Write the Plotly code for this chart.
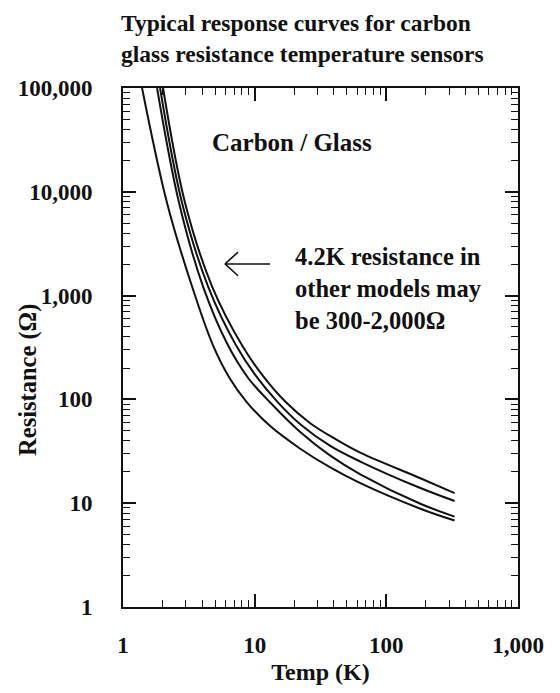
import plotly.graph_objects as go

# Temperature (K) and resistance (ohm), four sensors
temp_a = [1.395, 2.16, 3.347, 4.836, 6.512, 8.77, 13.12, 22.18, 37.51, 63.43, 181.4, 330]
res_a = [100000, 7800, 1222, 330, 157.4, 93.3, 55.3, 33.5, 22.1, 15.6, 8.85, 6.81]

temp_b = [1.814, 2.667, 4.058, 6.288, 8.925, 13.12, 22.18, 37.51, 63.43, 181.4, 330]
res_b = [100000, 7800, 1222, 330, 160.8, 93.3, 48.5, 28.7, 19.0, 9.87, 7.43]

temp_c = [1.912, 2.81, 4.431, 7.232, 10.09, 14.83, 22.18, 37.51, 63.43, 181.4, 330]
res_c = [100000, 7800, 1222, 330, 172, 95.3, 57.7, 35.7, 25.2, 14.0, 10.5]

temp_d = [2.015, 2.962, 4.752, 8.035, 11.40, 17.06, 26.42, 40.95, 63.43, 181.4, 330]
res_d = [100000, 7800, 1222, 330, 172, 95.3, 59.0, 41.6, 30.7, 17.4, 12.5]

x_tick_vals = [1, 10, 100, 1000]
x_tick_text = ["1", "10", "100", "1,000"]
y_tick_vals = [1, 10, 100, 1000, 10000, 100000]
y_tick_text = ["1", "10", "100", "1,000", "10,000", "100,000"]

FONT = "Liberation Serif"
BLACK = "#111111"

def minor_vals(decades):
    return [m * 10 ** d for d in range(decades) for m in range(2, 10)]

fig = go.Figure()
for t, r in [(temp_a, res_a), (temp_b, res_b), (temp_c, res_c), (temp_d, res_d)]:
    fig.add_trace(go.Scatter(x=t, y=r, mode="lines",
                             line=dict(color=BLACK, width=2, shape="spline", smoothing=1),
                             showlegend=False, hoverinfo="skip"))

axis_common = dict(
    type="log", showgrid=False, zeroline=False,
    showline=True, linecolor=BLACK, linewidth=2, mirror="allticks",
    ticks="inside", ticklen=13, tickwidth=1.5, tickcolor=BLACK,
    tickfont=dict(family=FONT, size=23, color=BLACK, weight="bold"),
)

fig.update_xaxes(**axis_common, range=[0, 3], tickmode="array",
                 tickvals=x_tick_vals, ticktext=x_tick_text, ticklabelstandoff=16,
                 minor=dict(ticks="inside", ticklen=7, tickwidth=1.3, tickcolor=BLACK,
                            tickmode="array", tickvals=minor_vals(3), showgrid=False),
                 title=dict(text="Temp (K)", standoff=7,
                            font=dict(family=FONT, size=24, color=BLACK, weight="bold")))
fig.update_yaxes(**axis_common, range=[0, 5], tickmode="array",
                 tickvals=y_tick_vals, ticktext=y_tick_text, ticklabelstandoff=24,
                 minor=dict(ticks="inside", ticklen=7, tickwidth=1.3, tickcolor=BLACK,
                            tickmode="array", tickvals=minor_vals(5), showgrid=False))

def ann(text, x, y, xanchor="left", yanchor="middle", angle=0, size=23):
    fig.add_annotation(text=text, xref="paper", yref="paper", x=x, y=y,
                       xanchor=xanchor, yanchor=yanchor, showarrow=False,
                       textangle=angle, align="left",
                       font=dict(family=FONT, size=size, color=BLACK, weight="bold"))

W, H = 560, 693
L, R, T, B = 123, 42, 88, 77
pw, ph = W - L - R, H - T - B
px = lambda x: (x - L) / pw
py = lambda y: (H - B - y) / ph

ann("Typical response curves for carbon<br>glass resistance temperature sensors",
    px(119), py(38), size=23.5)
ann("Carbon / Glass", px(210), py(143), size=25)
ann("4.2K resistance in", px(293), py(259), size=24.5)
ann("other models may", px(293), py(292), size=24.5)
ann("be 300-2,000Ω", px(293), py(325), size=24.5)
ann("Resistance (Ω)", px(28), py(385), xanchor="center", angle=-90, size=24.5)

arrow = dict(type="line", xref="paper", yref="paper",
             line=dict(color=BLACK, width=1.6))
fig.add_shape(**arrow, x0=px(270), y0=py(267), x1=px(225), y1=py(267))
fig.add_shape(**arrow, x0=px(225), y0=py(267), x1=px(238), y1=py(255))
fig.add_shape(**arrow, x0=px(225), y0=py(267), x1=px(238), y1=py(279))

fig.update_layout(width=W, height=H, margin=dict(l=L, r=R, t=T, b=B),
                  paper_bgcolor="white", plot_bgcolor="white")

fig.write_html("out.html")
